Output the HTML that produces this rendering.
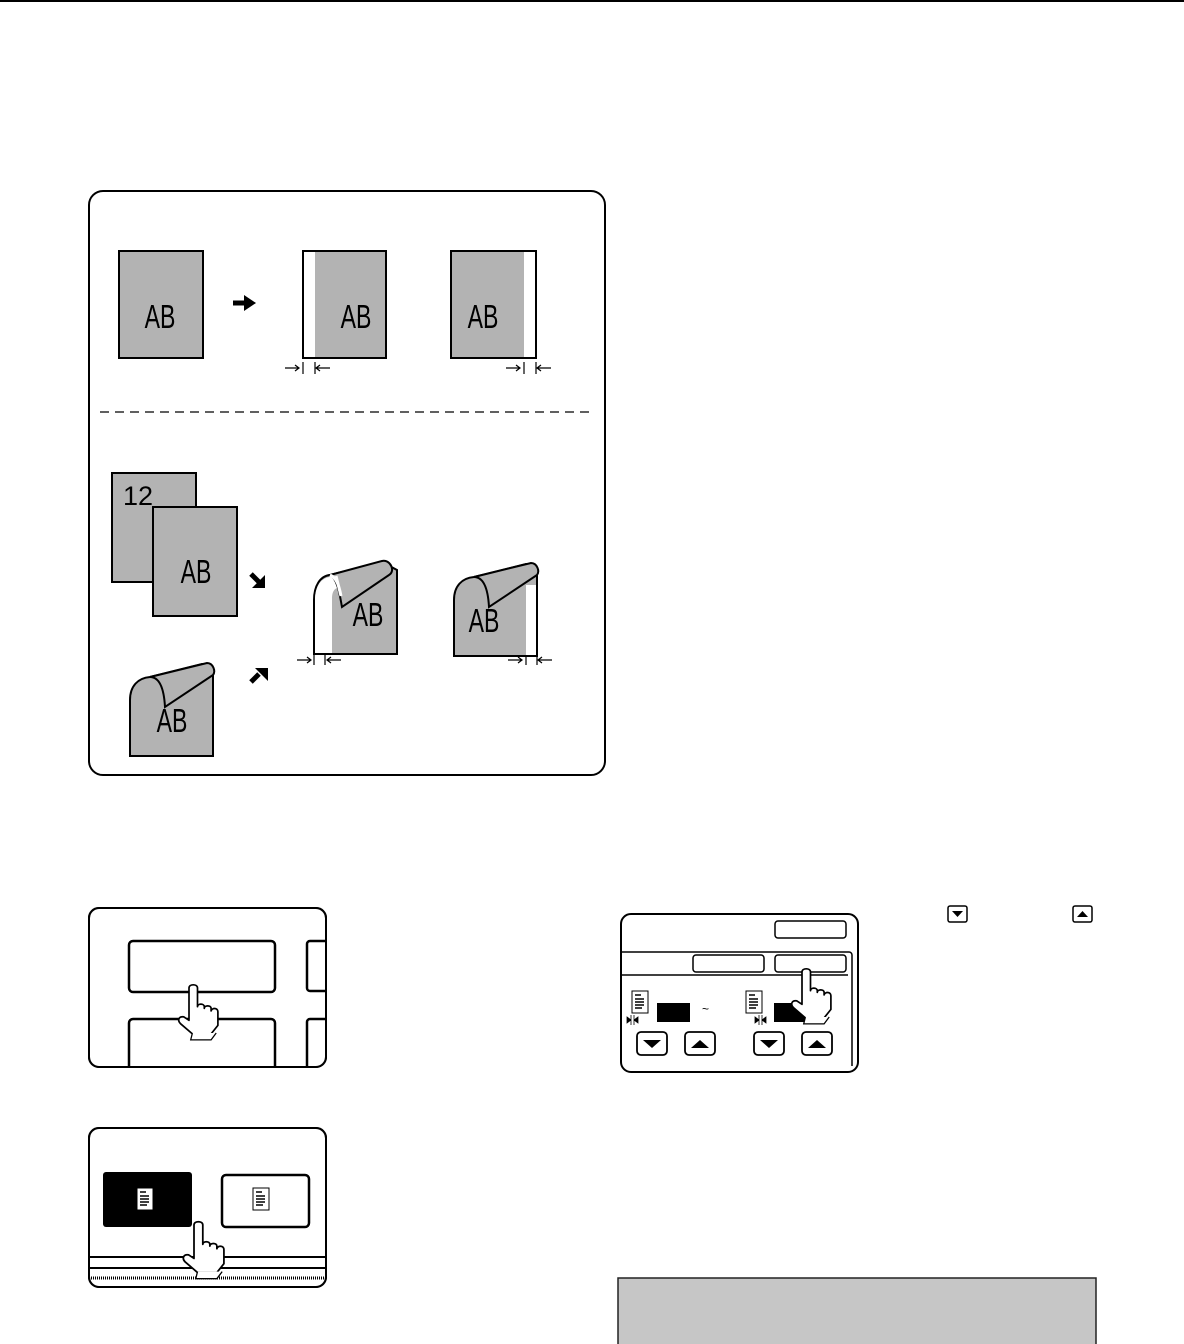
<!DOCTYPE html>
<html><head><meta charset="utf-8"><style>
html,body{margin:0;padding:0;background:#fff;}
svg{display:block;}
.ab{font-family:"Liberation Sans",sans-serif;font-size:33px;}
</style></head><body>
<svg width="1184" height="1344" viewBox="0 0 1184 1344" xmlns="http://www.w3.org/2000/svg">
<defs>
<g id="hand">
<path d="M0,0 c0,-5 10,-5 10,0 l0,22 c0,-4 8,-4 8,0 l0,2 c0,-4 8,-4 8,0 l0,3 c1,-4 8,-4 8,1 l0,16 l-8,10 l-22,0 l-14,-12 c-4,-4 -2,-9 4,-8 l6,4 z" fill="#fff" stroke="#000" stroke-width="2" stroke-linejoin="round"/>
<path d="M4,53 l-2,8 l24,0 l6,-8" fill="#fff" stroke="#000" stroke-width="1.5"/>
</g>
<g id="doc"><rect x="0" y="0" width="16" height="22" fill="#fff" stroke="#000" stroke-width="1"/><path d="M3,4h6M3,8h9M3,11h9M3,14h9M3,17h7" stroke="#000" stroke-width="1.5"/></g>
<clipPath id="p1"><rect x="90" y="909" width="235" height="157" rx="9"/></clipPath>
<clipPath id="p2"><rect x="90" y="1129" width="235" height="157" rx="9"/></clipPath>
</defs>
<rect x="0" y="0" width="1184" height="2" fill="#000"/>

<!-- top panel -->
<rect x="89" y="191" width="516" height="584" rx="14" fill="#fff" stroke="#000" stroke-width="2"/>
<rect x="119" y="251" width="84" height="107" fill="#b3b3b3" stroke="#000" stroke-width="2"/>
<text class="ab" transform="translate(160,328) scale(0.7,1)" text-anchor="middle">AB</text>
<path d="M233,303 h13" stroke="#000" stroke-width="5"/><polygon points="244,295 256,303 244,311" fill="#000"/>
<rect x="303" y="251" width="83" height="107" fill="#b3b3b3" stroke="#000" stroke-width="2"/>
<rect x="304" y="252" width="11" height="105" fill="#fff"/>
<text class="ab" transform="translate(356,328) scale(0.7,1)" text-anchor="middle">AB</text>
<rect x="451" y="251" width="85" height="107" fill="#b3b3b3" stroke="#000" stroke-width="2"/>
<rect x="524" y="252" width="11" height="105" fill="#fff"/>
<text class="ab" transform="translate(483,328) scale(0.7,1)" text-anchor="middle">AB</text>
<g stroke="#000" stroke-width="1.2" fill="none">
<path d="M285,368h14M295,365l4,3l-4,3M303,362v12M315,362v12M330,368h-13M320,365l-4,3l4,3"/>
<path d="M506,368h14M516,365l4,3l-4,3M524,362v12M536,362v12M551,368h-13M541,365l-4,3l4,3"/>
<path d="M297,660h14M307,657l4,3l-4,3M314,653v12M325,653v12M341,660h-13M331,657l-4,3l4,3"/>
<path d="M508,660h14M518,657l4,3l-4,3M526,653v12M537,653v12M552,660h-13M542,657l-4,3l4,3"/>
</g>
<line x1="100" y1="412" x2="592" y2="412" stroke="#000" stroke-width="1.2" stroke-dasharray="9,6"/>

<rect x="112" y="473" width="84" height="109" fill="#b3b3b3" stroke="#000" stroke-width="2"/>
<text x="123" y="505" font-family="Liberation Sans,sans-serif" font-size="27">12</text>
<rect x="153" y="507" width="84" height="109" fill="#b3b3b3" stroke="#000" stroke-width="2"/>
<text class="ab" transform="translate(196,583) scale(0.7,1)" text-anchor="middle">AB</text>
<path d="M251,574 l8,8" stroke="#000" stroke-width="5"/><polygon points="265,575 265,588 252,588" fill="#000"/>
<path d="M251,682 l8,-8" stroke="#000" stroke-width="5"/><polygon points="255,668 268,668 268,681" fill="#000"/>

<!-- curled page middle -->
<path d="M314,654 V600 c0,-14 6,-24 16,-25 l52,-13 l15,8 V654 z" fill="#b3b3b3" stroke="#000" stroke-width="2"/>
<path d="M315,653 V600 c0,-12 5,-22 15,-23 c10,1 12,6 12,10 c-8,0 -10,5 -10,12 V653 z" fill="#fff"/>
<path d="M330,575 l52,-14 c8,-2 14,10 7,14 l-47,32 c-2,-10 -4,-28 -12,-32 z" fill="#b3b3b3" stroke="#000" stroke-width="2"/>
<path d="M336,576 l5,20 M341,596 c-2,-10 -4,-18 -11,-21" fill="none" stroke="#fff" stroke-width="3"/>
<text class="ab" transform="translate(368,626) scale(0.7,1)" text-anchor="middle">AB</text>
<!-- curled right -->
<path d="M454,656 V600 c0,-14 8,-22 20,-23 l52,-13 c6,0 11,6 11,12 V656 z" fill="#b3b3b3" stroke="#000" stroke-width="2"/>
<rect x="526" y="585" width="10" height="70" fill="#fff"/>
<path d="M454,656 H537 V578" fill="none" stroke="#000" stroke-width="2"/>
<path d="M474,577 c10,0 14,12 15,30 l48,-32 c3,-4 0,-12 -6,-12 z" fill="#b3b3b3" stroke="#000" stroke-width="2"/>
<text class="ab" transform="translate(484,632) scale(0.7,1)" text-anchor="middle">AB</text>
<!-- curled bottom-left -->
<path d="M130,756 V700 c0,-14 8,-22 20,-23 l52,-13 c6,0 11,6 11,12 V756 z" fill="#b3b3b3" stroke="#000" stroke-width="2"/>
<path d="M150,677 c10,0 14,12 15,30 l48,-32 c3,-4 0,-12 -6,-12 z" fill="#b3b3b3" stroke="#000" stroke-width="2"/>
<text class="ab" transform="translate(172,732) scale(0.7,1)" text-anchor="middle">AB</text>

<!-- bottom-left panel 1 -->
<rect x="89" y="908" width="237" height="159" rx="10" fill="#fff" stroke="#000" stroke-width="2"/>
<g clip-path="url(#p1)">
<rect x="129" y="941" width="146" height="51" rx="4" fill="#fff" stroke="#000" stroke-width="2.5"/>
<rect x="129" y="1019" width="146" height="60" rx="4" fill="#fff" stroke="#000" stroke-width="2.5"/>
<path d="M330,941 h-20 a3,3 0 0 0 -3,3 v44 a3,3 0 0 0 3,3 h20 M330,1019 h-20 a3,3 0 0 0 -3,3 v50" fill="none" stroke="#000" stroke-width="2.5"/>
<use href="#hand" x="0" y="0" transform="translate(189,988) scale(0.85)"/>
</g>
<rect x="89" y="908" width="237" height="159" rx="10" fill="none" stroke="#000" stroke-width="2"/>
<!-- panel 2 -->
<rect x="89" y="1128" width="237" height="159" rx="10" fill="#fff" stroke="#000" stroke-width="2"/>
<g clip-path="url(#p2)">
<rect x="103" y="1172" width="89" height="55" rx="3" fill="#000"/>
<use href="#doc" x="137" y="1188"/>
<rect x="222" y="1175" width="87" height="52" rx="4" fill="#fff" stroke="#000" stroke-width="2.5"/>
<use href="#doc" x="253" y="1188"/>
<path d="M89,1257 H326 M89,1268 H326" stroke="#000" stroke-width="2"/>
<path d="M89,1278 H326" stroke="#000" stroke-width="3" stroke-dasharray="1,1"/>
<use href="#hand" x="0" y="0" transform="translate(194,1225) scale(0.88)"/>
</g>
<rect x="89" y="1128" width="237" height="159" rx="10" fill="none" stroke="#000" stroke-width="2"/>

<!-- right panel -->
<rect x="621" y="914" width="237" height="158" rx="10" fill="#fff" stroke="#000" stroke-width="2"/>
<rect x="775" y="921" width="71" height="17" rx="3" fill="#fff" stroke="#000" stroke-width="1.5"/>
<path d="M621,952 H849 a3,3 0 0 1 3,3 V1066 M621,975 H848" fill="none" stroke="#000" stroke-width="1.5"/>
<rect x="693" y="955" width="71" height="17" rx="3" fill="#fff" stroke="#000" stroke-width="1.5"/>
<rect x="775" y="955" width="71" height="17" rx="3" fill="#fff" stroke="#000" stroke-width="1.5"/>
<use href="#doc" x="632" y="991"/>
<path d="M627,1017 l4,3 l-4,3z M638,1017 l-4,3 l4,3z M631,1015v10M634,1015v10" fill="#000" stroke="#000" stroke-width="0.8"/>
<rect x="657" y="1003" width="33" height="19" fill="#000"/>
<text x="702" y="1013" font-size="12" font-family="Liberation Sans,sans-serif">~</text>
<use href="#doc" x="746" y="991"/>
<path d="M755,1017 l4,3 l-4,3z M766,1017 l-4,3 l4,3z M759,1015v10M762,1015v10" fill="#000" stroke="#000" stroke-width="0.8"/>
<rect x="774" y="1003" width="33" height="19" fill="#000"/>
<g fill="#fff" stroke="#000" stroke-width="1.8">
<rect x="637" y="1032" width="30" height="23" rx="4"/><rect x="685" y="1032" width="30" height="23" rx="4"/>
<rect x="754" y="1032" width="30" height="23" rx="4"/><rect x="802" y="1032" width="30" height="23" rx="4"/>
</g>
<path d="M643,1040h18l-9,8z M691,1048h18l-9,-8z M760,1040h18l-9,8z M808,1048h18l-9,-8z" fill="#000"/>
<use href="#hand" x="0" y="0" transform="translate(802,972) scale(0.85)"/>
<!-- small icons -->
<rect x="948" y="906" width="19" height="16" rx="2" fill="#fff" stroke="#000" stroke-width="1.5"/>
<path d="M952,911h11l-5.5,6z" fill="#000"/>
<rect x="1073" y="906" width="19" height="16" rx="2" fill="#fff" stroke="#000" stroke-width="1.5"/>
<path d="M1077,917h11l-5.5,-6z" fill="#000"/>
<!-- gray box -->
<rect x="618" y="1278" width="478" height="76" fill="#c6c6c6" stroke="#222" stroke-width="1.5"/>
</svg>
</body></html>
